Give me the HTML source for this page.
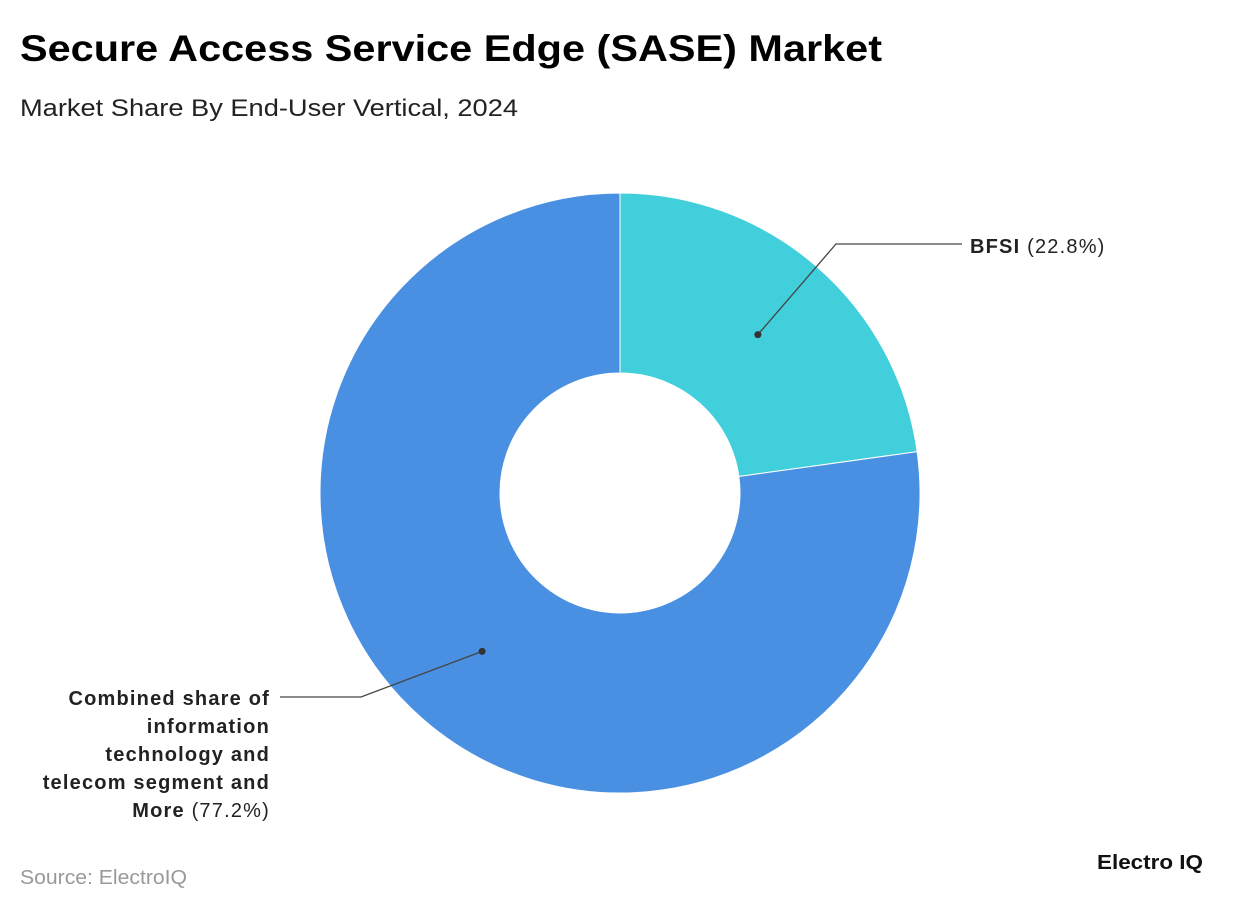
<!DOCTYPE html>
<html><head><meta charset="utf-8"><style>
body{margin:0;background:#fff;font-family:"Liberation Sans",sans-serif;}
#wrap{position:relative;width:1240px;height:910px;overflow:hidden;}
</style></head><body>
<div id="wrap">
<svg id="chart" width="1240" height="910">
<text x="20" y="61" font-size="37" font-weight="bold" fill="#000" textLength="862" lengthAdjust="spacingAndGlyphs">Secure Access Service Edge (SASE) Market</text>
<text x="20" y="116" font-size="24" fill="#222" textLength="498" lengthAdjust="spacingAndGlyphs">Market Share By End-User Vertical, 2024</text>
<text x="20" y="884" font-size="20" fill="#999" textLength="167" lengthAdjust="spacingAndGlyphs">Source: ElectroIQ</text>
<text x="1097" y="869" font-size="20" font-weight="bold" fill="#111" textLength="106" lengthAdjust="spacingAndGlyphs">Electro IQ</text>
<g id="slices"></g>
<g id="labels"></g>
</svg>
</div>
<script>
const categories = ["BFSI", "Combined share of information technology and telecom segment and More"];
const values = [22.8, 77.2];
const colors = ["#40cfdb", "#4a90e2"];
const labelLines = [["BFSI"], ["Combined share of", "information", "technology and", "telecom segment and", "More"]];
const pctLabels = ["(22.8%)", "(77.2%)"];

const cx=620, cy=493, R=300, r=120, NS="http://www.w3.org/2000/svg";
const total = values.reduce((a,b)=>a+b,0);
function pt(a,rad){return [cx+rad*Math.sin(a), cy-rad*Math.cos(a)];}
const gS=document.getElementById('slices'), gL=document.getElementById('labels');
let a0=0;
values.forEach((v,i)=>{
  const a1=a0+v/total*2*Math.PI, large=(a1-a0)>Math.PI?1:0;
  const [x0,y0]=pt(a0,R),[x1,y1]=pt(a1,R),[x2,y2]=pt(a1,r),[x3,y3]=pt(a0,r);
  const p=document.createElementNS(NS,'path');
  p.setAttribute('d',`M${x0},${y0}A${R},${R} 0 ${large} 1 ${x1},${y1}L${x2},${y2}A${r},${r} 0 ${large} 0 ${x3},${y3}Z`);
  p.setAttribute('fill',colors[i]); p.setAttribute('stroke','#fff'); p.setAttribute('stroke-width','1');
  
  
  gS.appendChild(p);
  const am=(a0+a1)/2, [dx,dy]=pt(am,210);
  const right=Math.sin(am)>0;
  let ex,ey,hx,tx,ty;
  if(right){ex=836;ey=244;hx=962;tx=970;ty=253;}
  else{ex=361;ey=697;hx=280;tx=270;ty=705;}
  const l=document.createElementNS(NS,'polyline');
  l.setAttribute('points',`${dx},${dy} ${ex},${ey} ${hx},${ey}`);
  l.setAttribute('fill','none'); l.setAttribute('stroke','#444'); l.setAttribute('stroke-width','1.3');
  
  
  gL.appendChild(l);
  const c=document.createElementNS(NS,'circle');
  c.setAttribute('cx',dx); c.setAttribute('cy',dy); c.setAttribute('r',3.5); c.setAttribute('fill','#333');
  
  
  gL.appendChild(c);
  const t=document.createElementNS(NS,'text');
  t.setAttribute('font-size','20'); t.setAttribute('fill','#222');
  t.setAttribute('letter-spacing','1.2');
  t.setAttribute('text-anchor', right?'start':'end');
  
  
  const lines=labelLines[i];
  lines.forEach((ln,k)=>{
    const ts=document.createElementNS(NS,'tspan');
    ts.setAttribute('x',tx); ts.setAttribute('y',ty+k*28);
    const b=document.createElementNS(NS,'tspan'); b.setAttribute('font-weight','bold'); b.textContent=ln;
    ts.appendChild(b);
    if(k===lines.length-1){const n=document.createElementNS(NS,'tspan'); n.textContent=' '+pctLabels[i]; ts.appendChild(n);}
    t.appendChild(ts);
  });
  gL.appendChild(t);
  a0=a1;
});
</script>
</body></html>
